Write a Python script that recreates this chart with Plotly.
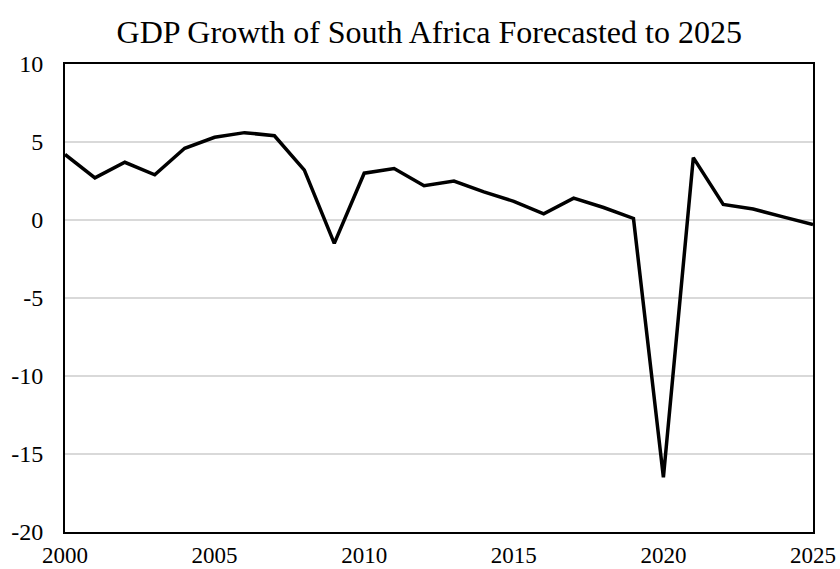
import plotly.graph_objects as go

years = list(range(2000, 2026))
gdp_growth = [4.2, 2.7, 3.7, 2.9, 4.6, 5.3, 5.6, 5.4, 3.2, -1.5,
              3.0, 3.3, 2.2, 2.5, 1.8, 1.2, 0.4, 1.4, 0.8, 0.1,
              -16.5, 4.0, 1.0, 0.7, 0.2, -0.3]

y_tick_vals = [-20, -15, -10, -5, 0, 5, 10]
y_tick_text = ["-20", "-15", "-10", "-5", "0", "5", "10"]
x_tick_vals = [2000, 2005, 2010, 2015, 2020, 2025]
x_tick_text = ["2000", "2005", "2010", "2015", "2020", "2025"]

title_text = "GDP Growth of South Africa Forecasted to 2025"
font_family = "Liberation Serif, Times New Roman, serif"

fig = go.Figure()
fig.add_trace(go.Scatter(x=years, y=gdp_growth, mode="lines",
                         line=dict(color="black", width=3.5),
                         showlegend=False))

fig.update_layout(
    width=840, height=569,
    paper_bgcolor="white", plot_bgcolor="white",
    margin=dict(l=65, r=27, t=64, b=37),
    font=dict(family=font_family, size=24, color="black"),
    title=dict(text=title_text, font=dict(family=font_family, size=32, color="black"),
               x=0.511, xanchor="center", xref="container",
               y=1 - 21/569, yanchor="top", yref="container"),
)
fig.update_xaxes(range=[2000, 2025], tickvals=x_tick_vals, ticktext=x_tick_text,
                 showgrid=False, automargin=False,
                 showline=True, linecolor="black", linewidth=2, mirror=True,
                 ticks="", ticklabelstandoff=1, zeroline=False,
                 tickfont=dict(size=23))
fig.update_yaxes(range=[-20, 10], tickvals=y_tick_vals, ticktext=y_tick_text,
                 showgrid=True, automargin=False,
                 gridcolor="#d9d9d9", gridwidth=1.5,
                 showline=True, linecolor="black", linewidth=2, mirror=True,
                 ticks="", ticklabelstandoff=15, zeroline=False)

fig.write_html("out.html")
